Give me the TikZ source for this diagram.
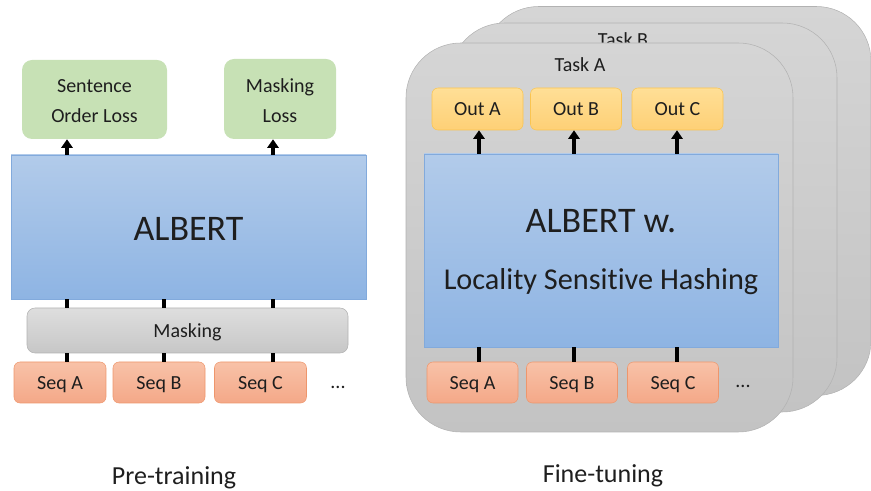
\documentclass[tikz,border=0pt]{standalone}
\usepackage{fontspec}
\setmainfont{Carlito}[Ligatures={NoCommon}]
\usetikzlibrary{arrows.meta}
\definecolor{losscol}{RGB}{199,225,181}
\definecolor{bluetop}{RGB}{178,203,234}
\definecolor{bluebot}{RGB}{142,180,227}
\definecolor{blueline}{RGB}{130,170,220}
\definecolor{seqtop}{RGB}{248,194,168}
\definecolor{seqbot}{RGB}{244,168,136}
\definecolor{seqline}{RGB}{238,150,108}
\definecolor{outtop}{RGB}{255,223,150}
\definecolor{outbot}{RGB}{254,208,118}
\definecolor{outline}{RGB}{250,196,80}
\definecolor{cardtop}{RGB}{213,213,213}
\definecolor{cardbot}{RGB}{195,195,195}
\definecolor{cardline}{RGB}{178,178,178}
\definecolor{txt}{RGB}{30,30,30}
\begin{document}
\begin{tikzpicture}[x=0.75pt,y=-0.75pt,text=txt,font=\fontsize{15}{22.5}\selectfont]
    \tikzset{
        lbl/.style={text height=1.1em, text depth=0.1em},
        loss/.style={fill=losscol, rounded corners=7.5pt, align=center, inner sep=0pt,
            text height=35.25pt, text depth=0pt},
        albert/.style={draw=blueline, top color=bluetop, bottom color=bluebot, inner sep=0pt, align=center},
        seqbox/.style={lbl, draw=seqline, top color=seqtop, bottom color=seqbot, rounded corners=4.5pt,
            minimum width=69pt, minimum height=30.75pt, inner sep=0pt},
        outbox/.style={lbl, draw=outline, top color=outtop, bottom color=outbot, rounded corners=4.5pt,
            minimum width=68.25pt, minimum height=31.5pt, inner sep=0pt},
        card/.style={draw=cardline, top color=cardtop, bottom color=cardbot, rounded corners=41pt,
            minimum width=290.25pt, minimum height=291.75pt, inner sep=0pt},
        arr/.style={-{Triangle[width=8.5pt,length=6.5pt]}, line width=2.6pt, black},
        link/.style={line width=2.6pt, black}
    }
    \useasboundingbox (0,0) rectangle (871,491);

    % pre-training
    \node[loss, minimum width=108.75pt, minimum height=59.25pt] (sol) at (94.5,99.5) {Sentence\\Order Loss};
    \node[loss, minimum width=84pt, minimum height=60pt] (ml) at (280,99) {Masking\\Loss};
    \node[albert, minimum width=266.25pt, minimum height=108pt] (albertL) at (188.5,227) {};
    \node[anchor=base, font=\fontsize{27}{32}\selectfont] (albt) at (188.5,241) {ALBERT};
    \node[lbl, draw=cardline, top color=black!13, bottom color=black!22, rounded corners=6pt,
        minimum width=240.75pt, minimum height=33.75pt, inner sep=0pt] (mask) at (187.5,330.5) {Masking};
    \node[seqbox] (seqLA) at (60,382.5) {Seq A};
    \node[seqbox] (seqLB) at (159,382.5) {Seq B};
    \node[seqbox] (seqLC) at (260.5,382.5) {Seq C};
    \node[anchor=base] (dotsL) at (338,389) {...};
    \node[anchor=base, font=\fontsize{19.5}{24}\selectfont] (pre) at (174,484.5) {Pre-training};

    \coordinate (p1) at (67,0);
    \coordinate (p2) at (164,0);
    \coordinate (p3) at (273,0);
    \draw[arr] (albertL.north -| p1) -- (sol.south -| p1);
    \draw[arr] (albertL.north -| p3) -- (ml.south -| p3);
    \foreach \p in {p1,p2,p3} {
        \draw[link] (albertL.south -| \p) -- (mask.north -| \p);
        \draw[link] (mask.south -| \p) -- (seqLA.north -| \p);
    }

    % fine-tuning
    \node[card] (cardC) at (677.5,201) {};
    \node[card] (cardB) at (643.5,217.5) {};
    \node[anchor=base] (taskB) at (623,47) {Task B};
    \node[card] (cardA) at (599.5,237.5) {};
    \node[anchor=base] (taskA) at (580,71.5) {Task A};
    \node[outbox] (outA) at (477.5,109) {Out A};
    \node[outbox] (outB) at (576,109) {Out B};
    \node[outbox] (outC) at (677.5,109) {Out C};
    \node[albert, minimum width=265.5pt, minimum height=144.75pt] (albertR) at (601,250.5) {};
    \node[anchor=base, font=\fontsize{27}{32}\selectfont] (albw) at (601,232.5) {ALBERT w.};
    \node[anchor=base, font=\fontsize{22.7}{27}\selectfont] (lsh) at (601,290) {Locality Sensitive Hashing};
    \node[seqbox, minimum width=68.25pt] (seqRA) at (472.5,382.5) {Seq A};
    \node[seqbox, minimum width=68.25pt] (seqRB) at (572,382.5) {Seq B};
    \node[seqbox, minimum width=68.25pt] (seqRC) at (673,382.5) {Seq C};
    \node[anchor=base] (dotsR) at (743,388) {...};
    \node[anchor=base, font=\fontsize{19.5}{24}\selectfont] (fine) at (603,482) {Fine-tuning};

    \coordinate (q1) at (479,0);
    \coordinate (q2) at (574,0);
    \coordinate (q3) at (677,0);
    \foreach \q in {q1,q2,q3} {
        \draw[arr] (albertR.north -| \q) -- (outA.south -| \q);
        \draw[link] (seqRA.north -| \q) -- (albertR.south -| \q);
    }
\end{tikzpicture}
\end{document}
